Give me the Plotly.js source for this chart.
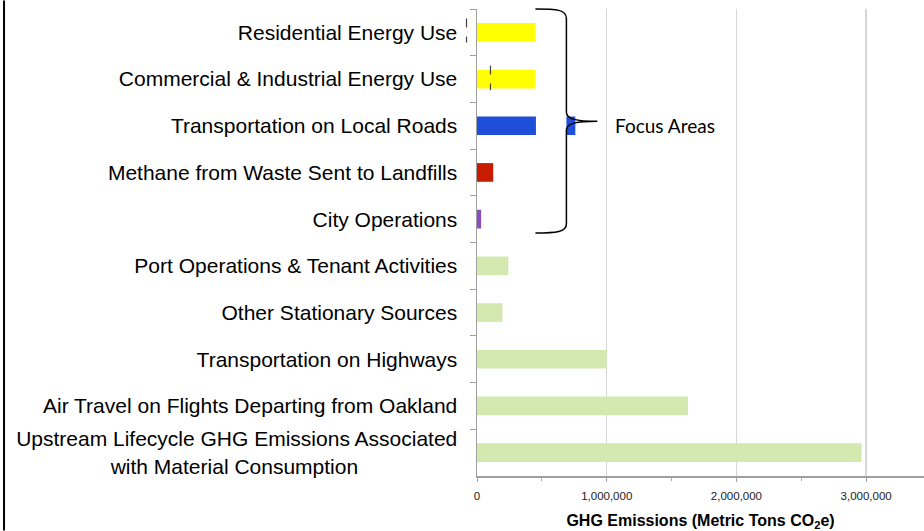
<!DOCTYPE html>
<html>
<head>
<meta charset="utf-8">
<script src="https://cdn.plot.ly/plotly-3.0.1.min.js"></script>
<style>html,body{margin:0;padding:0;background:#fff;}#chart{width:924px;height:531px;}</style>
</head>
<body>
<div id="chart"></div>
<script>
// ---- data ----
var categories = [
  "Residential Energy Use",
  "Commercial & Industrial Energy Use",
  "Transportation on Local Roads",
  "Methane from Waste Sent to Landfills",
  "City Operations",
  "Port Operations & Tenant Activities",
  "Other Stationary Sources",
  "Transportation on Highways",
  "Air Travel on Flights Departing from Oakland",
  "Upstream Lifecycle GHG Emissions Associated<br>with Material Consumption\u00A0\u00A0\u00A0\u00A0\u00A0\u00A0\u00A0\u00A0\u00A0\u00A0\u00A0\u00A0\u00A0\u00A0\u00A0\u00A0\u00A0"
];
var emissions = [450000, 450000, 758000, 125000, 32000, 242000, 196000, 1000000, 1627000, 2965000];
var xTickValues = [0, 1000000, 2000000, 3000000];
var xTickLabels = ["0", "1,000,000", "2,000,000", "3,000,000"];
var focusLabel = "Focus Areas";

// ---- styles ----
var barColors = ["#ffff00", "#ffff00", "#1f4fd8", "#c81c00", "#8b4cc0",
                 "#d3e9af", "#d3e9af", "#d3e9af", "#d3e9af", "#d3e9af"];

var W = 924, H = 531;
var L = 476.5, R = 924, T = 8.5, B = 476.5;
function px(x){ return (x - L) / (R - L); }
function py(y){ return 1 - (y - T) / (B - T); }
var xMax = 3446000;

var trace = {
  type: "bar",
  orientation: "h",
  y: categories,
  x: emissions,
  marker: {color: barColors, line: {width: 0}},
  hoverinfo: "none"
};

function P(x, y){ return px(x).toFixed(5) + "," + py(y).toFixed(5); }
var bracePath = "M" + P(535, 8.5) +
  " C" + P(556, 8.5) + " " + P(566, 9) + " " + P(566, 18) +
  " L" + P(566, 112) +
  " C" + P(566, 119) + " " + P(576, 121) + " " + P(597, 121) +
  " C" + P(576, 121) + " " + P(566, 123) + " " + P(566, 130) +
  " L" + P(566, 224) +
  " C" + P(566, 232) + " " + P(556, 233) + " " + P(535, 233);

var layout = {
  width: W, height: H,
  margin: {l: L, r: W - R, t: T, b: H - B, pad: 0},
  paper_bgcolor: "#ffffff",
  plot_bgcolor: "#ffffff",
  showlegend: false,
  bargap: 0.6,
  font: {family: "Liberation Sans, Arial, sans-serif", color: "#000"},
  xaxis: {
    range: [0, xMax],
    tickvals: xTickValues,
    ticktext: xTickLabels,
    tickfont: {size: 11.5, color: "#222"},
    ticklabelstandoff: 5,
    showgrid: true,
    gridcolor: "#d6d6d6",
    gridwidth: 1.5,
    zeroline: false,
    showline: true,
    linecolor: "#a0a0a0",
    linewidth: 1.5,
    ticks: "outside",
    ticklen: 4,
    tickcolor: "#a0a0a0",
    minor: {dtick: 500000, tick0: 0, ticks: "outside", ticklen: 3, tickcolor: "#b0b0b0", showgrid: false},
    title: {text: "<b>GHG Emissions (Metric Tons CO<sub>2</sub>e)</b>", font: {size: 16, color: "#000"}, standoff: 17},
    fixedrange: true
  },
  yaxis: {
    type: "category",
    categoryorder: "array",
    categoryarray: categories,
    range: [9.5, -0.5],
    tickson: "boundaries",
    ticks: "outside",
    ticklen: 6,
    tickcolor: "#a0a0a0",
    ticklabelstandoff: 14,
    tickfont: {size: 21, color: "#000"},
    showline: true,
    linecolor: "#a0a0a0",
    linewidth: 1.5,
    showgrid: false,
    zeroline: false,
    fixedrange: true
  },
  shapes: [
    // white mask behind the brace
    {type: "rect", xref: "paper", yref: "paper", layer: "above",
     x0: px(535.5), x1: px(566), y0: py(243), y1: py(8.5),
     fillcolor: "#ffffff", line: {width: 0}},
    // brace
    {type: "path", xref: "paper", yref: "paper", layer: "above",
     path: bracePath, line: {color: "#000", width: 1.5}},
    // dashed markers
    {type: "line", xref: "paper", yref: "paper", layer: "above",
     x0: px(466), x1: px(466), y0: py(18), y1: py(42),
     line: {color: "#444", width: 1.2, dash: "dash"}},
    {type: "line", xref: "paper", yref: "paper", layer: "above",
     x0: px(490), x1: px(490), y0: py(65), y1: py(90),
     line: {color: "#444", width: 1.2, dash: "dash"}},
    // left frame line
    {type: "line", xref: "paper", yref: "paper", layer: "above",
     x0: px(3), x1: px(3), y0: py(531), y1: py(0),
     line: {color: "#000", width: 2}}
  ],
  annotations: [
    {xref: "paper", yref: "paper", x: px(613), y: py(125), xanchor: "left", yanchor: "middle",
     text: focusLabel, showarrow: false,
     font: {family: "Lato, Open Sans, sans-serif", size: 19, color: "#000"}}
  ]
};

Plotly.newPlot("chart", [trace], layout, {displayModeBar: false, staticPlot: true});
</script>
</body>
</html>
